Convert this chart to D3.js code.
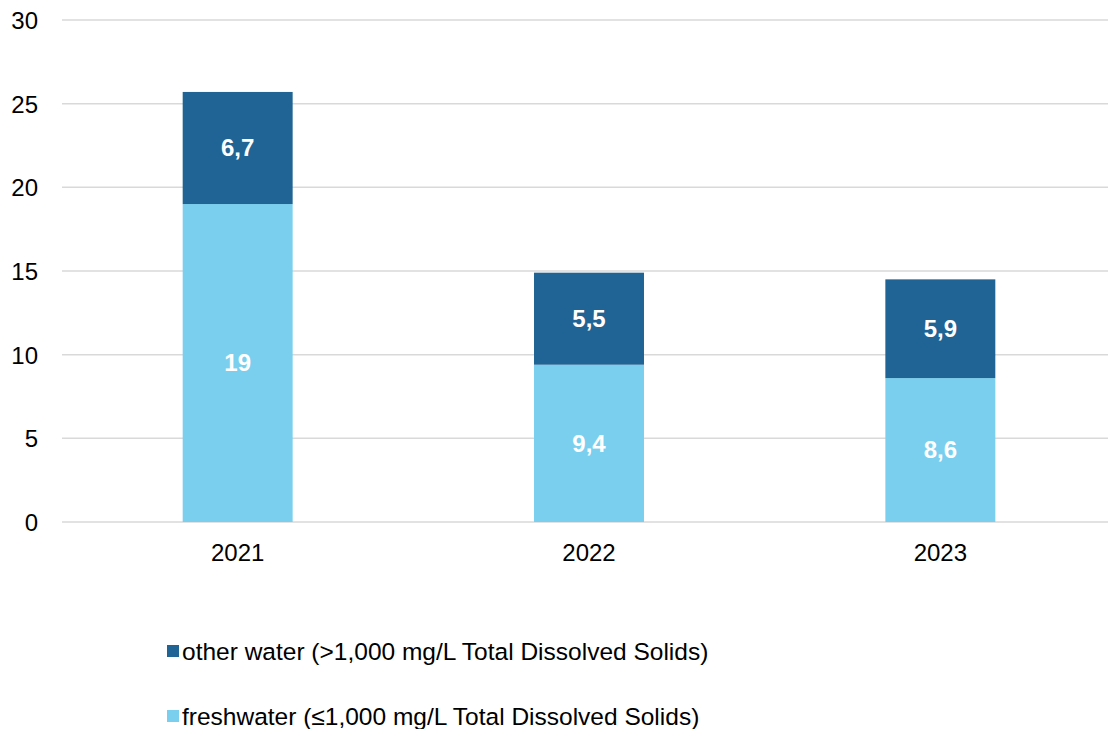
<!DOCTYPE html>
<html><head><meta charset="utf-8">
<script src="https://cdn.jsdelivr.net/npm/d3@7"></script>
<style>body{margin:0;background:#fff;}svg{display:block;font-family:"Liberation Sans",Arial,sans-serif;}</style>
</head><body>
<svg id="c" width="1108" height="729"></svg>
<script>
const years = ["2021","2022","2023"];
const freshwater = [19, 9.4, 8.6];
const otherWater = [6.7, 5.5, 5.9];
const yTicks = [0,5,10,15,20,25,30];
const seriesNames = ["other water (>1,000 mg/L Total Dissolved Solids)", "freshwater (≤1,000 mg/L Total Dissolved Solids)"];
const colors = {fresh:"#7ACFEF", other:"#1F6494"};

const svg = d3.select("#c");
const x = d3.scaleBand().domain(years).range([62,1116]).paddingInner(0.687).paddingOuter(0.3435);
const y = d3.scaleLinear().domain([0,30]).range([522,20]);

// gridlines
svg.append("g").selectAll("line").data(yTicks).join("line")
  .attr("x1",62).attr("x2",1108).attr("y1",d=>y(d)).attr("y2",d=>y(d))
  .attr("stroke","#d9d9d9").attr("stroke-width",1.5);

// y axis labels
const yAxis = d3.axisLeft(y).tickValues(yTicks).tickSize(0).tickPadding(0);
const ya = svg.append("g").attr("transform","translate(38,0)").call(yAxis);
ya.select(".domain").remove();
ya.selectAll("text").attr("font-size",24).attr("fill","#000").attr("font-family","Liberation Sans, Arial, sans-serif").attr("dy","0.35em");

// x axis labels
const xAxis = d3.axisBottom(x).tickSize(0).tickPadding(0);
const xa = svg.append("g").attr("transform","translate(0,553)").call(xAxis);
xa.select(".domain").remove();
xa.selectAll("text").attr("font-size",24).attr("fill","#000").attr("font-family","Liberation Sans, Arial, sans-serif").attr("y",0).attr("dy","0.35em");

const fmt = v => String(v).replace(".",",");

// freshwater bars
svg.append("g").selectAll("rect").data(years).join("rect")
  .attr("x",d=>x(d)).attr("width",x.bandwidth())
  .attr("y",(d,i)=>y(freshwater[i])).attr("height",(d,i)=>y(0)-y(freshwater[i]))
  .attr("fill",colors.fresh);
// other bars
svg.append("g").selectAll("rect").data(years).join("rect")
  .attr("x",d=>x(d)).attr("width",x.bandwidth())
  .attr("y",(d,i)=>y(freshwater[i]+otherWater[i])).attr("height",(d,i)=>y(freshwater[i])-y(freshwater[i]+otherWater[i]))
  .attr("fill",colors.other);

// labels
svg.append("g").selectAll("text").data(years).join("text")
  .attr("x",d=>x(d)+x.bandwidth()/2).attr("y",(d,i)=>y(freshwater[i]/2))
  .attr("text-anchor","middle").attr("dy","0.35em").attr("fill","#fff").attr("font-weight","bold").attr("font-size",24)
  .text((d,i)=>fmt(freshwater[i]));
svg.append("g").selectAll("text").data(years).join("text")
  .attr("x",d=>x(d)+x.bandwidth()/2).attr("y",(d,i)=>y(freshwater[i]+otherWater[i]/2))
  .attr("text-anchor","middle").attr("dy","0.35em").attr("fill","#fff").attr("font-weight","bold").attr("font-size",24)
  .text((d,i)=>fmt(otherWater[i]));

// legend
const leg = svg.append("g");
const legItems = [{name:seriesNames[0],c:colors.other,y:651},{name:seriesNames[1],c:colors.fresh,y:716}];
legItems.forEach(it=>{
  leg.append("rect").attr("x",167).attr("y",it.y-6).attr("width",12).attr("height",12).attr("fill",it.c);
  leg.append("text").attr("x",182).attr("y",it.y).attr("dy","0.35em").attr("font-size",24.5).attr("fill","#000").text(it.name);
});
</script>
</body></html>
